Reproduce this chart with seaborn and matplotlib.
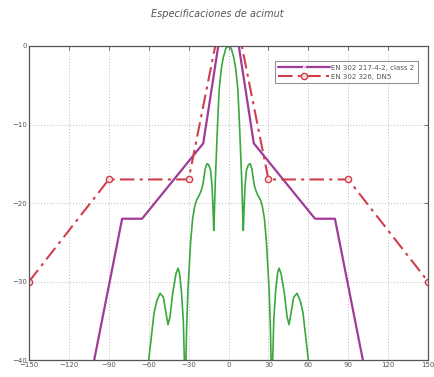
import matplotlib
matplotlib.use('Agg')
import matplotlib.pyplot as plt
import seaborn as sns
import pandas as pd

# Mascaras de diagrama de radiacion (angulo en grados, nivel relativo en dB)
purple_label = "EN 302 217-4-2, class 2"
purple_ang = [-101, -80, -65, -19, 0, 19, 65, 80, 101]
purple_db = [-40, -22, -22, -12.4, 8.5, -12.4, -22, -22, -40]

red_label = "EN 302 326, DN5"
red_ang = [-150, -90, -30, 0, 30, 90, 150]
red_db = [-30, -17, -17, 8.5, -17, -17, -30]

# Diagrama de la antena
green_ang = [-61, -60, -58, -56, -54, -51.5, -49, -47, -45.5, -44, -42, -39.5, -38, -37,
             -35.5, -34, -33.2, -32.6, -32, -31.5, -30.5, -29.5, -28.5, -27, -25.5, -24,
             -22, -20.5, -19.5, -18.5, -17.5, -16.3, -15, -13.5, -12.4, -11.6, -11.1,
             -10.6, -10, -9, -8, -7, -5.5, -4, -2, 0,
             2, 4, 5.5, 7, 8, 9, 10, 10.6, 11.1, 11.6, 12.4, 13.5, 15, 16.3, 17.5, 18.5,
             19.5, 20.5, 22, 24, 25.5, 27, 28.5, 29.5, 30.5, 31.5, 32, 32.6, 33.2, 34,
             35.5, 37, 38, 39.5, 42, 44, 45.5, 47, 49, 51.5, 54, 56, 58, 60, 61]
green_db = [-43, -40, -37, -34, -32.5, -31.5, -32, -34, -35.5, -34.5, -31.5, -29, -28.3, -28.8,
            -31, -35, -40, -47, -40, -36, -31, -28, -25, -22, -20.5, -19.6,
            -19, -18.4, -17.8, -16.8, -15.6, -15.0, -15.1, -15.8, -17.8, -21, -23.5,
            -21, -17.5, -13.2, -9, -5.5, -3.0, -1.5, -0.3, 0,
            -0.3, -1.5, -3.0, -5.5, -9, -13.2, -17.5, -21, -23.5, -21, -17.8, -15.8, -15.1, -15.0, -15.6, -16.8,
            -17.8, -18.4, -19, -19.6, -20.5, -22, -25, -28, -31, -36, -40, -47, -40, -35,
            -31, -28.8, -28.3, -29, -31.5, -34.5, -35.5, -34, -32, -31.5, -32.5, -34, -37, -40, -43]

x_ticks = [-150, -120, -90, -60, -30, 0, 30, 60, 90, 120, 150]
y_ticks = [-40, -30, -20, -10, 0]

sns.set_style("white")
plt.rcParams['font.family'] = ['DejaVu Sans']

fig = plt.figure(figsize=(4.35, 3.77), dpi=100)
ax = fig.add_axes([0.0667, 0.045, 0.9173, 0.833])

df_purple = pd.DataFrame({'ang': purple_ang, 'db': purple_db})
df_red = pd.DataFrame({'ang': red_ang, 'db': red_db})
df_green = pd.DataFrame({'ang': green_ang, 'db': green_db})

sns.lineplot(data=df_purple, x='ang', y='db', sort=False, ax=ax, color='#a03c98',
             linewidth=1.6, marker='.', markersize=3, markevery=[], label=purple_label)
sns.lineplot(data=df_red, x='ang', y='db', sort=False, ax=ax, color='#d0404c',
             linewidth=1.5, linestyle=(0, (7, 2.5, 1.5, 2.5)), marker='o', markersize=4.5,
             markerfacecolor='#f6dede', markeredgecolor='#d0404c', markeredgewidth=1.0,
             markevery=[0, 1, 2, 4, 5, 6], label=red_label)
sns.lineplot(data=df_green, x='ang', y='db', sort=False, ax=ax, color='#3aa83c',
             linewidth=1.2)

ax.set_xlim(-150, 150)
ax.set_ylim(-40, 0)
ax.set_xticks(x_ticks)
ax.set_yticks(y_ticks)
ax.set_xlabel("")
ax.set_ylabel("")
ax.grid(True, color='#bbbbbb', linestyle=(0, (1, 2)), linewidth=0.7)
ax.tick_params(direction='in', length=3, width=0.6, top=True, right=True,
               labelsize=5, labelcolor='#555555', color='#555555', pad=1.5)
for s in ax.spines.values():
    s.set_color('#555555')
    s.set_linewidth(0.9)

# Leyenda
leg = ax.legend(loc='upper right', bbox_to_anchor=(0.975, 0.952), borderaxespad=0,
                fontsize=5, frameon=True, fancybox=False, edgecolor='#777777',
                handlelength=7.5, handletextpad=0.2, borderpad=0.5, labelspacing=0.45)
leg.get_frame().set_linewidth(0.8)
for t in leg.get_texts():
    t.set_color('#555555')

fig.text(0.5, 0.962, "Especificaciones de acimut", ha='center', va='center',
         fontsize=7, style='italic', color='#555555')

fig.savefig('out.png', dpi=100)
